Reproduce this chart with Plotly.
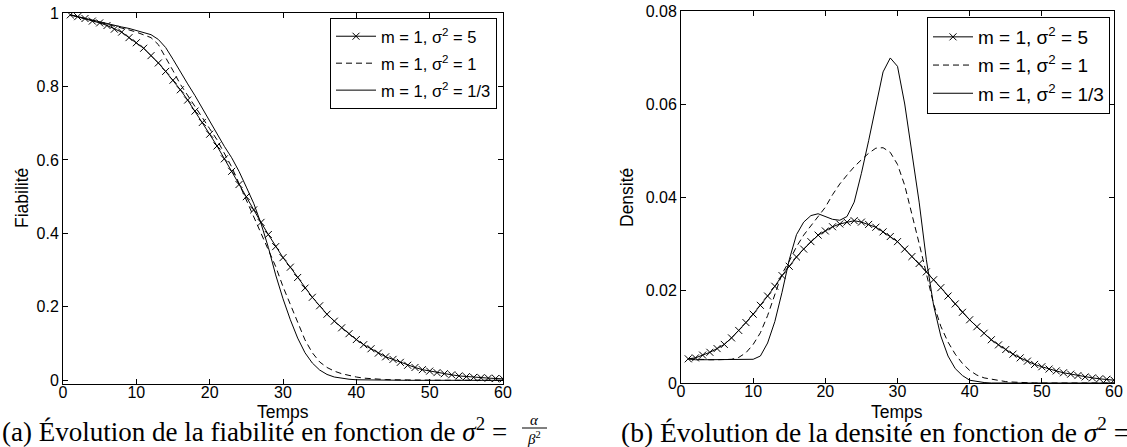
import plotly.graph_objects as go

# ---------------- data ----------------
temps = list(range(1, 61))

fiab_s5 = [0.995, 0.990, 0.985, 0.978, 0.973, 0.966, 0.956, 0.948, 0.933, 0.919,
           0.904, 0.884, 0.864, 0.841, 0.817, 0.791, 0.763, 0.733, 0.702, 0.670,
           0.638, 0.603, 0.569, 0.533, 0.500, 0.464, 0.430, 0.397, 0.364, 0.334,
           0.308, 0.280, 0.251, 0.226, 0.203, 0.180, 0.161, 0.143, 0.127, 0.111,
           0.097, 0.086, 0.074, 0.064, 0.057, 0.049, 0.041, 0.035, 0.029, 0.025,
           0.021, 0.018, 0.015, 0.012, 0.010, 0.008, 0.007, 0.006, 0.005, 0.004]

fiab_s1 = [0.995, 0.990, 0.985, 0.980, 0.975, 0.970, 0.965, 0.960, 0.954, 0.948,
           0.941, 0.933, 0.914, 0.880, 0.843, 0.806, 0.775, 0.745, 0.715, 0.685,
           0.655, 0.620, 0.581, 0.536, 0.490, 0.447, 0.402, 0.357, 0.310, 0.255,
           0.205, 0.155, 0.110, 0.075, 0.050, 0.035, 0.025, 0.018, 0.013, 0.009,
           0.006, 0.004, 0.003, 0.002, 0.0015, 0.001, 0.001, 0.0007, 0.0005, 0.0004,
           0.0003, 0.0002, 0.0002, 0.0001, 0.0001, 0.0, 0.0, 0.0, 0.0, 0.0]

fiab_s13 = [0.995, 0.990, 0.985, 0.980, 0.976, 0.971, 0.967, 0.962, 0.958, 0.953,
            0.948, 0.941, 0.928, 0.906, 0.874, 0.839, 0.807, 0.775, 0.740, 0.705,
            0.670, 0.637, 0.606, 0.569, 0.526, 0.482, 0.427, 0.362, 0.287, 0.222,
            0.165, 0.115, 0.075, 0.047, 0.028, 0.016, 0.009, 0.005, 0.003, 0.0015,
            0.001, 0.0005, 0.0003, 0.0002, 0.0001, 0.0, 0.0, 0.0, 0.0, 0.0,
            0.0, 0.0, 0.0, 0.0, 0.0, 0.0, 0.0, 0.0, 0.0, 0.0]

dens_s5 = [0.0052, 0.0054, 0.0060, 0.0066, 0.0074, 0.0083, 0.0097, 0.0113, 0.0130, 0.0148,
           0.0167, 0.0187, 0.0208, 0.0231, 0.0251, 0.0271, 0.0288, 0.0304, 0.0318, 0.0327,
           0.0336, 0.0342, 0.0346, 0.0349, 0.0346, 0.0341, 0.0335, 0.0325, 0.0315, 0.0304,
           0.0288, 0.0272, 0.0257, 0.0239, 0.0222, 0.0205, 0.0187, 0.0170, 0.0152, 0.0136,
           0.0121, 0.0107, 0.0093, 0.0082, 0.0072, 0.0062, 0.0054, 0.0047, 0.0040, 0.0035,
           0.0030, 0.0026, 0.0022, 0.0019, 0.0016, 0.0013, 0.0011, 0.0009, 0.0008, 0.0006]

dens_s1 = [0.0052, 0.0051, 0.0050, 0.0050, 0.0050, 0.0050, 0.0051, 0.0055, 0.0065, 0.0083,
           0.0108, 0.0145, 0.0190, 0.0235, 0.0262, 0.0293, 0.0318, 0.0338, 0.0358, 0.0378,
           0.0405, 0.0428, 0.0447, 0.0465, 0.0480, 0.0494, 0.0505, 0.0506, 0.0496, 0.0470,
           0.0425, 0.0365, 0.0300, 0.0235, 0.0170, 0.0122, 0.0088, 0.0062, 0.0042, 0.0027,
           0.0017, 0.0011, 0.0008, 0.0005, 0.0003, 0.0002, 0.0001, 0.0001, 0.0, 0.0,
           0.0, 0.0, 0.0, 0.0, 0.0, 0.0, 0.0, 0.0, 0.0, 0.0]

dens_s13 = [0.0052, 0.0050, 0.0050, 0.0050, 0.0050, 0.0050, 0.0050, 0.0050, 0.0050, 0.0051,
            0.0058, 0.0086, 0.0132, 0.0195, 0.0265, 0.0319, 0.0346, 0.0360, 0.0364, 0.0358,
            0.0352, 0.0350, 0.0358, 0.0389, 0.0451, 0.0521, 0.0599, 0.0669, 0.0699, 0.0681,
            0.0600, 0.0498, 0.0389, 0.0265, 0.0167, 0.0101, 0.0058, 0.0031, 0.0016, 0.0006,
            0.0003, 0.0001, 0.0, 0.0, 0.0, 0.0, 0.0, 0.0, 0.0, 0.0,
            0.0, 0.0, 0.0, 0.0, 0.0, 0.0, 0.0, 0.0, 0.0, 0.0]

legend_names = ["m = 1, σ<sup>2</sup> = 5", "m = 1, σ<sup>2</sup> = 1", "m = 1, σ<sup>2</sup> = 1/3"]
x_ticks = [0, 10, 20, 30, 40, 50, 60]
y1_ticks = [0, 0.2, 0.4, 0.6, 0.8, 1]
y1_labels = ["0", "0.2", "0.4", "0.6", "0.8", "1"]
y2_ticks = [0, 0.02, 0.04, 0.06, 0.08]
y2_labels = ["0", "0.02", "0.04", "0.06", "0.08"]

x_title = "Temps"
y1_title = "Fiabilité"
y2_title = "Densité"
caption_a = "(a) Évolution de la fiabilité en fonction de <i>σ</i><sup>2</sup> = "
caption_b = "(b) Évolution de la densité en fonction de <i>σ</i><sup>2</sup> ="

# ---------------- figure ----------------
W, H = 1127, 447
SANS = "Liberation Sans, Arial, sans-serif"
SERIF = "Liberation Serif, Times New Roman, serif"

fig = go.Figure()

styles = [
    dict(mode="lines+markers", line=dict(color="black", width=1),
         marker=dict(symbol="x-thin", size=7, color="black", line=dict(width=1, color="black"))),
    dict(mode="lines", line=dict(color="black", width=1, dash="6px,4px")),
    dict(mode="lines", line=dict(color="black", width=1)),
]

for i, ys in enumerate([fiab_s5, fiab_s1, fiab_s13]):
    fig.add_trace(go.Scatter(x=temps, y=ys, name=legend_names[i], xaxis="x", yaxis="y",
                             legend="legend", legendgroup="a%d" % i, **styles[i]))
for i, ys in enumerate([dens_s5, dens_s1, dens_s13]):
    fig.add_trace(go.Scatter(x=temps, y=ys, name=legend_names[i], xaxis="x2", yaxis="y2",
                             legend="legend2", legendgroup="b%d" % i, **styles[i]))


def px_x(p):
    return p / W


def px_y(p):
    return 1 - p / H


axis_common = dict(showline=True, linecolor="black", linewidth=1, mirror="allticks",
                   ticks="inside", ticklen=5, tickwidth=1, tickcolor="black",
                   showgrid=False, zeroline=False, automargin=False,
                   ticklabeloverflow="allow",
                   tickfont=dict(family=SANS, size=16, color="black"))

fig.update_layout(
    template="none",
    width=W, height=H,
    margin=dict(l=0, r=0, t=0, b=0, pad=0),
    paper_bgcolor="white", plot_bgcolor="white",
    font=dict(family=SANS, color="black"),
    xaxis=dict(domain=[px_x(63), px_x(503)], range=[0, 60], tickvals=x_ticks,
               anchor="y", ticklabelstandoff=-6, **axis_common),
    yaxis=dict(domain=[px_y(384), px_y(13)], range=[-0.01, 1], tickvals=y1_ticks, ticktext=y1_labels,
               anchor="x", **axis_common),
    xaxis2=dict(domain=[px_x(681), px_x(1114)], range=[0, 60], tickvals=x_ticks,
                anchor="y2", ticklabelstandoff=-6, **axis_common),
    yaxis2=dict(domain=[px_y(383), px_y(11)], range=[0, 0.08], tickvals=y2_ticks, ticktext=y2_labels,
                anchor="x2", **axis_common),
    legend=dict(x=px_x(497), y=px_y(18), xanchor="right", yanchor="top",
                bgcolor="white", bordercolor="black", borderwidth=1, itemwidth=40,
                font=dict(family=SANS, size=16.5, color="black"), tracegroupgap=2.5),
    legend2=dict(x=px_x(1110), y=px_y(17), xanchor="right", yanchor="top",
                 bgcolor="white", bordercolor="black", borderwidth=1, itemwidth=40,
                 font=dict(family=SANS, size=19, color="black"), tracegroupgap=0.5),
    showlegend=True,
)

# axis titles
title_font = dict(family=SANS, size=17.5, color="black")
fig.add_annotation(x=px_x(283), y=px_y(412), xref="paper", yref="paper", xanchor="center", yanchor="middle",
                   text=x_title, showarrow=False, font=title_font, borderpad=0)
fig.add_annotation(x=px_x(897), y=px_y(412), xref="paper", yref="paper", xanchor="center", yanchor="middle",
                   text=x_title, showarrow=False, font=title_font, borderpad=0)
fig.add_annotation(x=px_x(22), y=px_y(198), xref="paper", yref="paper", xanchor="center", yanchor="middle",
                   text=y1_title, textangle=-90, showarrow=False, font=title_font)
fig.add_annotation(x=px_x(627), y=px_y(198), xref="paper", yref="paper", xanchor="center", yanchor="middle",
                   text=y2_title, textangle=-90, showarrow=False, font=title_font)

# captions
fig.add_annotation(x=0, y=px_y(430), xref="paper", yref="paper", xanchor="left", yanchor="middle",
                   text=caption_a, showarrow=False, font=dict(family=SERIF, size=27, color="black"))
fig.add_annotation(x=px_x(534), y=px_y(420), xref="paper", yref="paper", xanchor="center", yanchor="middle",
                   text="<i>α</i>", showarrow=False, font=dict(family=SERIF, size=15, color="black"))
fig.add_annotation(x=px_x(534), y=px_y(438), xref="paper", yref="paper", xanchor="center", yanchor="middle",
                   text="<i>β</i><sup>2</sup>", showarrow=False, font=dict(family=SERIF, size=15, color="black"))
fig.add_shape(type="line", xref="paper", yref="paper", x0=px_x(522), x1=px_x(547),
              y0=px_y(428), y1=px_y(428), line=dict(color="black", width=1))
fig.add_annotation(x=px_x(619), y=px_y(430), xref="paper", yref="paper", xanchor="left", yanchor="middle",
                   text=caption_b, showarrow=False, font=dict(family=SERIF, size=27.5, color="black"))

# the default page has an 8px body margin; remove it so the figure sits at the window origin
fig.write_html("out.html", config={"displayModeBar": False},
               post_script="document.body.style.margin='0';")
